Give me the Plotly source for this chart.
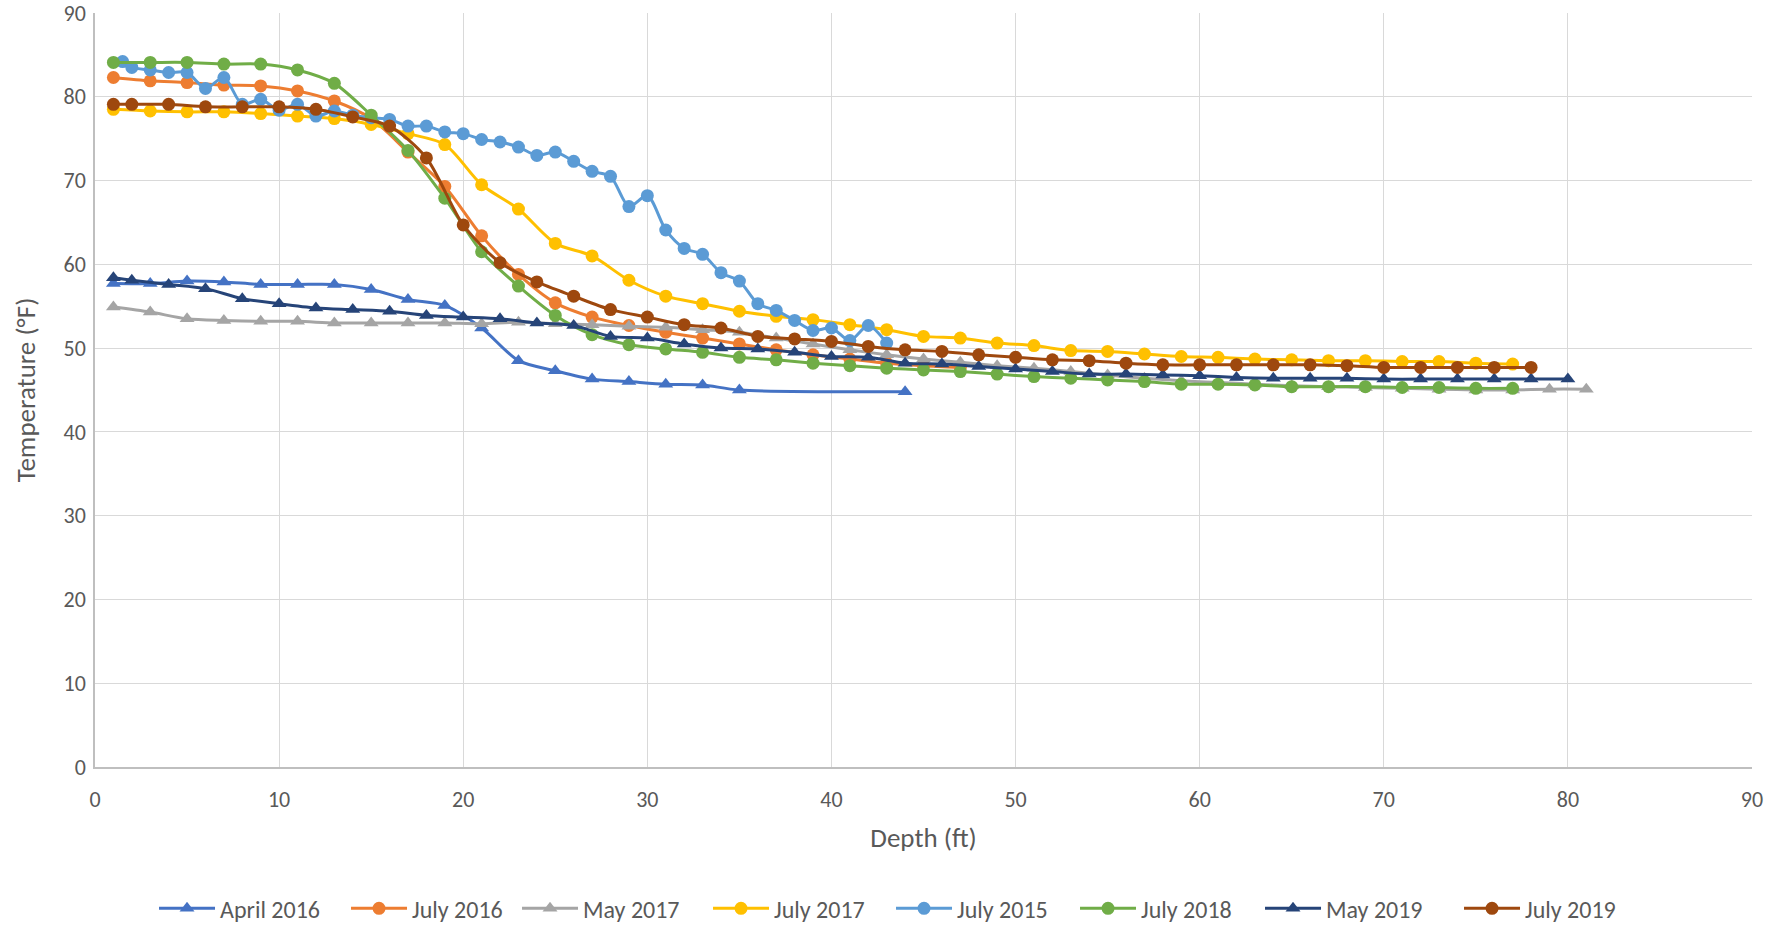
import plotly.graph_objects as go

# ---- data (depth in ft, temperature in °F) ----
apr16_d = [1, 3, 5, 7, 9, 11, 13, 15, 17, 19, 21, 23, 25, 27, 29, 31, 33, 35, 44]
apr16_t = [57.7, 57.7, 58.0, 57.9, 57.6, 57.6, 57.6, 57.0, 55.8, 55.1, 52.4, 48.5, 47.3, 46.3, 46.0, 45.7, 45.6, 45.0, 44.8]

jul16_d = [1, 3, 5, 7, 9, 11, 13, 15, 17, 19, 21, 23, 25, 27, 29, 31, 33, 35, 37, 39, 41, 43, 45, 47]
jul16_t = [82.3, 81.9, 81.7, 81.4, 81.3, 80.7, 79.5, 77.4, 73.4, 69.3, 63.4, 58.8, 55.4, 53.7, 52.7, 51.9, 51.2, 50.5,
           49.8, 49.2, 48.7, 48.2, 47.9, 47.7]

may17_d = [1, 3, 5, 7, 9, 11, 13, 15, 17, 19, 21, 23, 25, 27, 29, 31, 33, 35, 37, 39, 41, 43, 45, 47, 49, 51, 53, 55,
           57, 59, 61, 63, 65, 67, 69, 71, 73, 75, 77, 79, 81]
may17_t = [54.9, 54.3, 53.5, 53.3, 53.2, 53.2, 53.0, 53.0, 53.0, 53.0, 52.9, 53.1, 52.9, 52.8, 52.6, 52.5, 52.2, 51.9,
           51.2, 50.5, 49.8, 49.2, 48.7, 48.3, 47.9, 47.6, 47.2, 46.8, 46.4, 46.1, 45.9, 45.7, 45.5, 45.4, 45.3, 45.2,
           45.1, 45.0, 45.0, 45.1, 45.1]

jul17_d = [1, 3, 5, 7, 9, 11, 13, 15, 17, 19, 21, 23, 25, 27, 29, 31, 33, 35, 37, 39, 41, 43, 45, 47, 49, 51, 53, 55,
           57, 59, 61, 63, 65, 67, 69, 71, 73, 75, 77]
jul17_t = [78.5, 78.3, 78.2, 78.2, 78.0, 77.7, 77.4, 76.7, 75.6, 74.3, 69.5, 66.6, 62.5, 61.0, 58.1, 56.2, 55.3, 54.4,
           53.8, 53.4, 52.8, 52.2, 51.4, 51.2, 50.6, 50.3, 49.7, 49.6, 49.3, 49.0, 48.9, 48.7, 48.6, 48.5, 48.5, 48.4,
           48.4, 48.2, 48.1]

jul15_d = [1.5, 2, 3, 4, 5, 6, 7, 8, 9, 10, 11, 12, 13, 14, 15, 16, 17, 18, 19, 20, 21, 22, 23, 24, 25, 26, 27, 28,
           29, 30, 31, 32, 33, 34, 35, 36, 37, 38, 39, 40, 41, 42, 43]
jul15_t = [84.2, 83.5, 83.2, 82.9, 82.9, 81.0, 82.3, 79.1, 79.7, 78.4, 79.1, 77.7, 78.3, 77.8, 77.5, 77.3, 76.5, 76.5,
           75.8, 75.6, 74.9, 74.6, 74.0, 73.0, 73.4, 72.3, 71.1, 70.5, 66.9, 68.2, 64.1, 61.9, 61.2, 59.0, 58.0, 55.3,
           54.5, 53.3, 52.1, 52.4, 50.9, 52.7, 50.6]

jul18_d = [1, 3, 5, 7, 9, 11, 13, 15, 17, 19, 21, 23, 25, 27, 29, 31, 33, 35, 37, 39, 41, 43, 45, 47, 49, 51, 53, 55,
           57, 59, 61, 63, 65, 67, 69, 71, 73, 75, 77]
jul18_t = [84.1, 84.1, 84.1, 83.9, 83.9, 83.2, 81.6, 77.8, 73.6, 67.9, 61.5, 57.4, 53.9, 51.6, 50.4, 49.9, 49.5, 48.9,
           48.6, 48.2, 47.9, 47.6, 47.4, 47.2, 46.9, 46.6, 46.4, 46.2, 46.0, 45.7, 45.7, 45.6, 45.4, 45.4, 45.4, 45.3,
           45.3, 45.2, 45.2]

may19_d = [1, 2, 4, 6, 8, 10, 12, 14, 16, 18, 20, 22, 24, 26, 28, 30, 32, 34, 36, 38, 40, 42, 44, 46, 48, 50, 52, 54,
           56, 58, 60, 62, 64, 66, 68, 70, 72, 74, 76, 78, 80]
may19_t = [58.4, 58.1, 57.6, 57.1, 55.9, 55.3, 54.8, 54.6, 54.4, 53.9, 53.7, 53.5, 53.0, 52.7, 51.4, 51.2, 50.5, 50.0,
           49.9, 49.5, 49.0, 48.9, 48.2, 48.1, 47.8, 47.5, 47.2, 46.9, 46.9, 46.8, 46.7, 46.5, 46.4, 46.4, 46.4, 46.3,
           46.3, 46.3, 46.3, 46.3, 46.3]

jul19_d = [1, 2, 4, 6, 8, 10, 12, 14, 16, 18, 20, 22, 24, 26, 28, 30, 32, 34, 36, 38, 40, 42, 44, 46, 48, 50, 52, 54,
           56, 58, 60, 62, 64, 66, 68, 70, 72, 74, 76, 78]
jul19_t = [79.1, 79.1, 79.1, 78.8, 78.8, 78.8, 78.5, 77.6, 76.5, 72.7, 64.7, 60.2, 57.9, 56.2, 54.6, 53.7, 52.8, 52.4,
           51.4, 51.1, 50.8, 50.2, 49.8, 49.6, 49.2, 48.9, 48.6, 48.5, 48.2, 48.0, 48.0, 48.0, 48.0, 48.0, 47.9, 47.7,
           47.7, 47.7, 47.7, 47.7]

series = [
    ("April 2016", apr16_d, apr16_t, "#4472C4", "triangle-up"),
    ("July 2016", jul16_d, jul16_t, "#ED7D31", "circle"),
    ("May 2017", may17_d, may17_t, "#A5A5A5", "triangle-up"),
    ("July 2017", jul17_d, jul17_t, "#FFC000", "circle"),
    ("July 2015", jul15_d, jul15_t, "#5B9BD5", "circle"),
    ("July 2018", jul18_d, jul18_t, "#70AD47", "circle"),
    ("May 2019", may19_d, may19_t, "#264478", "triangle-up"),
    ("July 2019", jul19_d, jul19_t, "#9E480E", "circle"),
]
# legend entry text-slot widths (px), so entries are spaced like the reference
legend_slots = [121, 100, 120, 112, 113, 114, 128, 100]

FONT = "Calibri, Carlito, Lato, sans-serif"
TXT = "#595959"

fig = go.Figure()
for (name, d, t, col, sym), lw in zip(series, legend_slots):
    fig.add_trace(go.Scatter(
        x=d, y=t, name=name, mode="lines+markers",
        line=dict(color=col, width=3, shape="spline", smoothing=0.8),
        marker=dict(color=col, symbol=sym, size=13),
        legendwidth=lw,
    ))

fig.update_layout(
    width=1769, height=929,
    margin=dict(l=95, r=17, t=13, b=162, autoexpand=False),
    paper_bgcolor="white", plot_bgcolor="white",
    font=dict(family=FONT, color=TXT, size=22),
    showlegend=True,
    legend=dict(orientation="h", x=0.481, xanchor="center", y=-0.188, yanchor="middle",
                font=dict(size=24, color=TXT), itemwidth=56, traceorder="normal"),
)
fig.update_xaxes(
    range=[0, 90], dtick=10, tick0=0, showgrid=True, gridcolor="#D9D9D9", gridwidth=1.3,
    zeroline=False, showline=True, linecolor="#BFBFBF", linewidth=1.5, ticks="",
    automargin=False, ticklabelstandoff=12, ticklabeloverflow="allow", tickfont=dict(size=22, color=TXT),
    title=dict(text="Depth (ft)", font=dict(size=27, color=TXT), standoff=16),
)
fig.update_yaxes(
    range=[0, 90], dtick=10, tick0=0, showgrid=True, gridcolor="#D9D9D9", gridwidth=1.3,
    zeroline=False, showline=True, linecolor="#BFBFBF", linewidth=1.5, ticks="",
    automargin=False, ticklabelstandoff=3, ticklabeloverflow="allow", tickfont=dict(size=22, color=TXT),
    title=dict(text="Temperature (°F)", font=dict(size=27, color=TXT), standoff=20),
)

fig.write_html("out.html", config={"displayModeBar": False},
               post_script="document.body.style.margin='0';document.body.style.overflow='hidden';")
